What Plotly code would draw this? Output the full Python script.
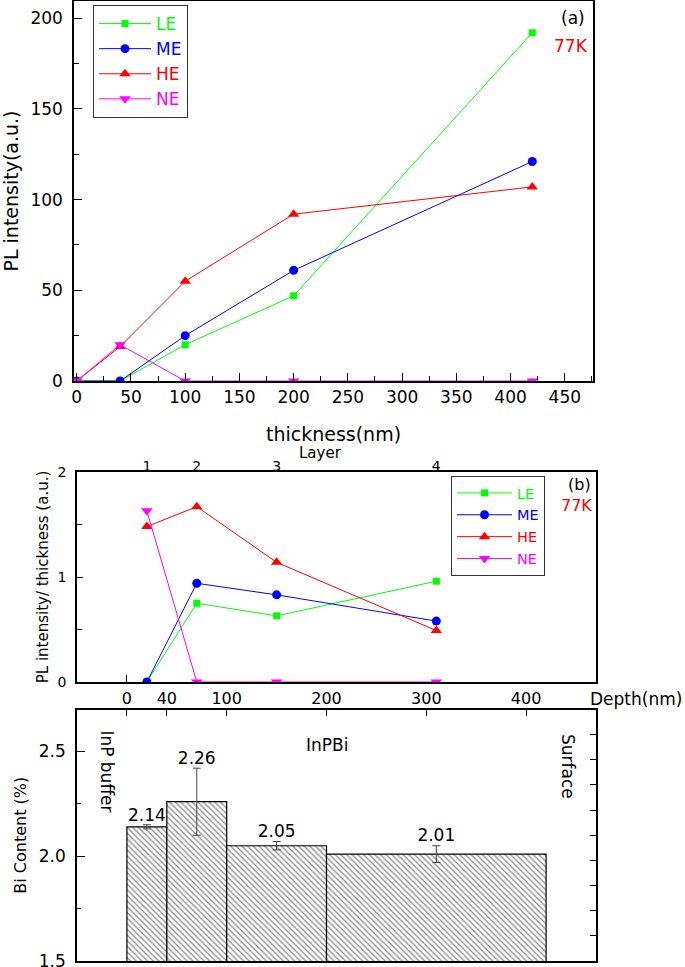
import plotly.graph_objects as go

# ---------------- data ----------------
# panel (a): PL intensity vs thickness
thickness_nm = [0, 40, 100, 200, 420]
pl_LE = [0, 0, 20, 47, 192]
pl_ME = [0, 0, 25, 61, 121]
pl_HE = [0, 19, 55, 92, 107]
pl_NE = [0, 20, 0, 0, 0]

# panel (b): PL intensity / thickness per layer
layer_labels = ["1", "2", "3", "4"]
layer_depth_nm = [20, 70, 150, 310]
norm_LE = [0, 0.75, 0.63, 0.96]
norm_ME = [0, 0.94, 0.83, 0.58]
norm_HE = [1.48, 1.67, 1.14, 0.49]
norm_NE = [1.63, 0, 0, 0]

# panel (c): Bi content per layer
bar_center_nm = [20, 70, 150, 310]
bar_width_nm = [40, 60, 100, 220]
bi_content = [2.14, 2.26, 2.05, 2.01]
bi_error = [0.01, 0.16, 0.02, 0.04]
depth_ticks = [0, 40, 100, 200, 300, 400]

series_names = ["LE", "ME", "HE", "NE"]
series_colors = ["#00ff00", "#0000ff", "#ff0000", "#ff00ff"]
series_symbols = ["square", "circle", "triangle-up", "triangle-down"]
series_sizes = [7, 9, 10, 10]

FONT = "DejaVu Sans, Liberation Sans, Arial, sans-serif"
W, H = 685, 967


def px_x(v):
    return v / W


def px_y(v):
    return 1 - v / H


fig = go.Figure()

pl_a = [pl_LE, pl_ME, pl_HE, pl_NE]
pl_b = [norm_LE, norm_ME, norm_HE, norm_NE]

for name, col, sym, sz, ya in zip(series_names, series_colors, series_symbols, series_sizes, pl_a):
    fig.add_trace(go.Scatter(
        x=thickness_nm, y=ya, mode="lines+markers",
        name=f"<span style='color:{col}'>{name}</span>",
        line=dict(color=col, width=1),
        marker=dict(symbol=sym, size=sz, color=col, line=dict(width=0)),
        xaxis="x", yaxis="y", legend="legend",
    ))

for name, col, sym, sz, yb in zip(series_names, series_colors, series_symbols, series_sizes, pl_b):
    fig.add_trace(go.Scatter(
        x=layer_depth_nm, y=yb, mode="lines+markers",
        name=f"<span style='color:{col}'>{name}</span>",
        line=dict(color=col, width=1),
        marker=dict(symbol=sym, size=sz, color=col, line=dict(width=0)),
        xaxis="x2", yaxis="y2", legend="legend2",
    ))

# invisible carrier so the top "Layer" axis is drawn
fig.add_trace(go.Scatter(
    x=layer_depth_nm, y=norm_HE, mode="markers", marker=dict(opacity=0),
    hoverinfo="skip", showlegend=False, xaxis="x3", yaxis="y2",
))

# panel (c) bars
fig.add_trace(go.Bar(
    x=bar_center_nm, y=bi_content, width=bar_width_nm,
    marker=dict(color="white", line=dict(color="black", width=1.2),
                pattern=dict(shape="\\", fgcolor="#222222", bgcolor="white",
                             size=4, solidity=0.35)),
    error_y=dict(type="data", array=bi_error, visible=True,
                 color="#444444", thickness=1, width=4),
    xaxis="x4", yaxis="y3", showlegend=False,
))
fig.add_trace(go.Scatter(
    x=bar_center_nm, y=[v + e for v, e in zip(bi_content, bi_error)],
    mode="text", text=[f"{v:.2f}" for v in bi_content],
    textposition="top center", textfont=dict(size=17, color="black", family=FONT),
    xaxis="x4", yaxis="y3", showlegend=False, cliponaxis=False, hoverinfo="skip",
))
# invisible carrier so the right-hand tick axis of (c) is drawn
fig.add_trace(go.Scatter(
    x=bar_center_nm, y=bi_content, mode="markers", marker=dict(opacity=0),
    hoverinfo="skip", showlegend=False, xaxis="x4", yaxis="y4",
))

axis_common = dict(showgrid=False, zeroline=False, linecolor="black", linewidth=1.5,
                   tickcolor="black", tickfont=dict(family=FONT, color="black"))

xdom_a = [px_x(74), px_x(593)]
xdom_bc = [px_x(77), px_x(596)]

fig.update_layout(
    width=W, height=H, autosize=False,
    margin=dict(l=0, r=0, t=0, b=0, autoexpand=False),
    paper_bgcolor="white", plot_bgcolor="white",
    font=dict(family=FONT, color="black"),
    barmode="overlay",
    # ---- panel (a)
    xaxis=dict(**axis_common, domain=xdom_a, anchor="y", range=[-2.5, 476],
               dtick=50, tick0=0, ticks="inside", ticklen=8, mirror=True,
               minor=dict(ticks="inside", ticklen=5, dtick=25, tickcolor="black"),
               tickfont_size=17,
               title=dict(text="thickness(nm)", font=dict(size=19), standoff=22)),
    yaxis=dict(**axis_common, domain=[px_y(381), px_y(1)], anchor="x", range=[0, 209.5],
               dtick=50, tick0=0, ticks="inside", ticklen=8, mirror=True,
               minor=dict(ticks="inside", ticklen=5, dtick=25, tickcolor="black"),
               tickfont_size=17, ticklabelstandoff=6,
               title=dict(text="PL intensity(a.u.)", font=dict(size=19), standoff=8)),
    # ---- panel (b)
    xaxis2=dict(**axis_common, domain=xdom_bc, anchor="y2", range=[-50, 470],
                tickvals=[0], ticks="inside", ticklen=7, showticklabels=False, mirror=True),
    xaxis3=dict(**axis_common, overlaying="x2", anchor="y2", side="top", range=[-50, 470],
                tickvals=layer_depth_nm, ticktext=layer_labels, ticks="", showline=False,
                tickfont_size=14, ticklabelstandoff=-3),
    yaxis2=dict(**axis_common, domain=[px_y(682), px_y(472)], anchor="x2", range=[0, 2],
                dtick=1, tick0=0, ticks="inside", ticklen=6, mirror=True,
                minor=dict(ticks="inside", ticklen=5, dtick=0.5, tickcolor="black"),
                tickfont_size=14, ticklabelstandoff=6,
                title=dict(text="PL intensity/ thickness (a.u.)", font=dict(size=15), standoff=5)),
    # ---- panel (c)
    xaxis4=dict(**axis_common, domain=xdom_bc, anchor="y3", side="top", range=[-50, 470],
                tickvals=depth_ticks, ticks="inside", ticklen=7, mirror=True,
                tickfont_size=16, ticklabelstandoff=-3),
    yaxis3=dict(**axis_common, domain=[px_y(961), px_y(709.5)], anchor="x4", range=[1.5, 2.7],
                dtick=0.5, tick0=1.5, tickformat=".1f", ticks="inside", ticklen=8, mirror=True,
                minor=dict(ticks="inside", ticklen=4, dtick=0.25, tickcolor="black"),
                tickfont_size=17, ticklabelstandoff=6, ticklabeloverflow="allow",
                title=dict(text="Bi Content (%)", font=dict(size=16), standoff=8)),
    yaxis4=dict(showgrid=False, zeroline=False, overlaying="y3", anchor="x4", side="right",
                range=[1.5, 2.7], tickvals=[round(1.5 + 0.12 * k, 2) for k in range(11)],
                ticks="inside", ticklen=6, tickcolor="black", showticklabels=False, showline=False),
    legend=dict(x=px_x(93), y=px_y(5), xanchor="left", yanchor="top",
                bordercolor="#333333", borderwidth=1, bgcolor="white",
                font=dict(size=17, family=FONT), tracegroupgap=0, itemwidth=52),
    legend2=dict(x=px_x(451), y=px_y(476), xanchor="left", yanchor="top",
                 bordercolor="#333333", borderwidth=1, bgcolor="white",
                 font=dict(size=14.5, family=FONT), tracegroupgap=0, itemwidth=55),
    showlegend=True,
)

ann = [
    dict(text="(a)", x=px_x(573), y=px_y(18), font=dict(size=17, color="black")),
    dict(text="77K", x=px_x(571), y=px_y(46), font=dict(size=17, color="#ff0000")),
    dict(text="(b)", x=px_x(579), y=px_y(484), font=dict(size=16, color="black")),
    dict(text="77K", x=px_x(576), y=px_y(505), font=dict(size=16, color="#ff0000")),
    dict(text="Layer", x=px_x(320), y=px_y(453), font=dict(size=15, color="black")),
]
for a in ann:
    fig.add_annotation(xref="paper", yref="paper", xanchor="center", yanchor="middle",
                       showarrow=False, **a)

fig.add_annotation(text="Depth(nm)", xref="paper", yref="paper", x=px_x(684), y=px_y(699),
                   xanchor="right", yanchor="middle", showarrow=False,
                   font=dict(size=17, color="black", family=FONT))
fig.add_annotation(text="InPBi", xref="x4", yref="y3", x=200, y=2.53, showarrow=False,
                   font=dict(size=17, color="black", family=FONT))
fig.add_annotation(text="InP buffer", xref="x4", yref="y3", x=-20, y=2.405, textangle=90,
                   showarrow=False, font=dict(size=17, color="black", family=FONT))
fig.add_annotation(text="Surface", xref="x4", yref="y3", x=442, y=2.43, textangle=90,
                   showarrow=False, font=dict(size=17, color="black", family=FONT))

fig.write_html("out.html", config={"displayModeBar": False},
               post_script="document.body.style.margin='0px';")
